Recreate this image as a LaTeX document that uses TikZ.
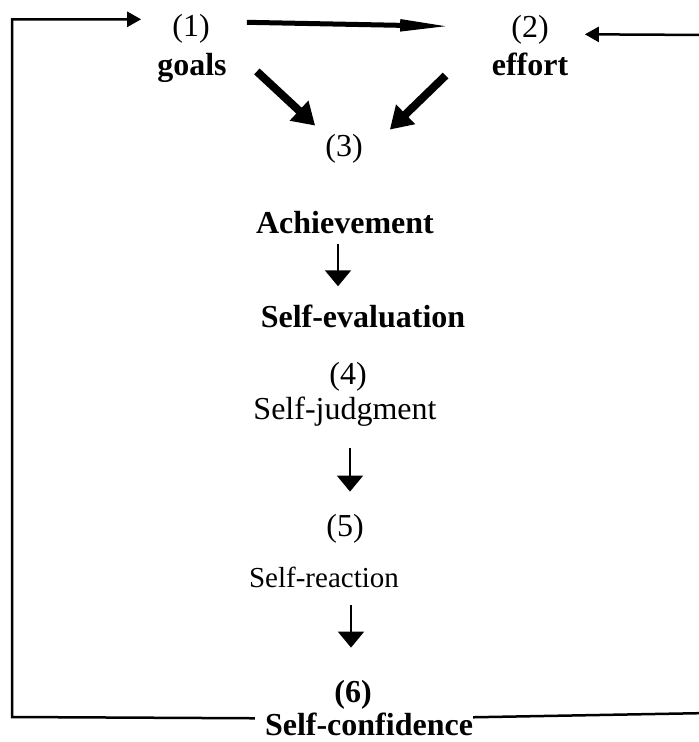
\documentclass[tikz,border=0pt]{standalone}
\usepackage{fontspec}
\setmainfont{Liberation Serif}
\usetikzlibrary{arrows.meta,positioning}

\begin{document}
\begin{tikzpicture}[x=1pt, y=-1pt, font=\fontsize{32}{38}\selectfont]
    % Define block styles
    \tikzstyle{stage} = [inner sep=0pt, anchor=base]
    \tikzstyle{stagebf} = [stage, font=\fontsize{32}{38}\selectfont\bfseries]
    \tikzstyle{line} = [draw, line width=2pt, -{Triangle[length=16pt,width=26pt]}]
    \tikzstyle{thickline} = [draw, line width=8pt, -{Triangle[length=22pt,width=26pt]}]
    \tikzstyle{thinhead} = [draw, line width=5pt, -{Triangle[length=50pt,width=11pt]}]
    \tikzstyle{loopline} = [draw, line width=2.5pt, -{Triangle[length=14pt,width=15pt]}]

    \useasboundingbox (0,0) rectangle (699,742);

    % Nodes
    \node [stage] (Step_1) at (191,36) {(1)};
    \node [stagebf] (Goals) at (192,75) {goals};
    \node [stage] (Step_2) at (530,37) {(2)};
    \node [stagebf] (Effort) at (530,75) {effort};
    \node [stage] (Step_3) at (344,156) {(3)};
    \node [stagebf] (Achievement) at (345,233) {Achievement};
    \node [stagebf] (Self_Evaluation) at (363,327) {Self-evaluation};
    \node [stage] (Step_4) at (348,384) {(4)};
    \node [stage] (Self_Judgment) at (345,419) {Self-judgment};
    \node [stage] (Step_5) at (345,536) {(5)};
    \node [stage, font=\fontsize{29}{34}\selectfont] (Self_Reaction) at (324,587) {Self-reaction};
    \node [stagebf] (Step_6) at (353,702) {(6)};
    \node [stagebf] (Self_Confidence) at (369,735) {Self-confidence};
    \coordinate (Left_Corner) at (12,717);
    \coordinate (Right_Corner) at (710,713);
    \coordinate (Right_Top) at (710,35);

    % Arrows
    \path [thinhead] ([xshift=37pt,yshift=6pt]Step_1.east) -- ([xshift=-61pt,yshift=3pt]Step_2.west);
    \path [thickline] ([xshift=30pt,yshift=-4pt]Goals.east) -- ([xshift=-10pt,yshift=8pt]Step_3.north west);
    \path [thickline] ([xshift=-46pt]Effort.south west) -- ([xshift=27pt,yshift=4pt]Step_3.north east);
    \path [line] ([xshift=-7pt,yshift=-10pt]Achievement.south) -- ([xshift=-25pt,yshift=18pt]Self_Evaluation.north);
    \path [line] ([xshift=5pt,yshift=-22pt]Self_Judgment.south) -- ([xshift=5pt,yshift=22pt]Step_5.north);
    \path [line] ([xshift=27pt,yshift=-18pt]Self_Reaction.south) -- ([xshift=-2pt,yshift=32pt]Step_6.north);

    % Feedback loops
    \path [loopline] ([xshift=-10pt,yshift=-6pt]Self_Confidence.north west) -- (Left_Corner) |- ([xshift=-31pt,yshift=9pt]Step_1.west);
    \path [loopline] ([yshift=-5pt]Self_Confidence.north east) -- (Right_Corner) -- (Right_Top) -- ([xshift=36pt,yshift=-5pt]Step_2.east);

  \end{tikzpicture}
\end{document}
